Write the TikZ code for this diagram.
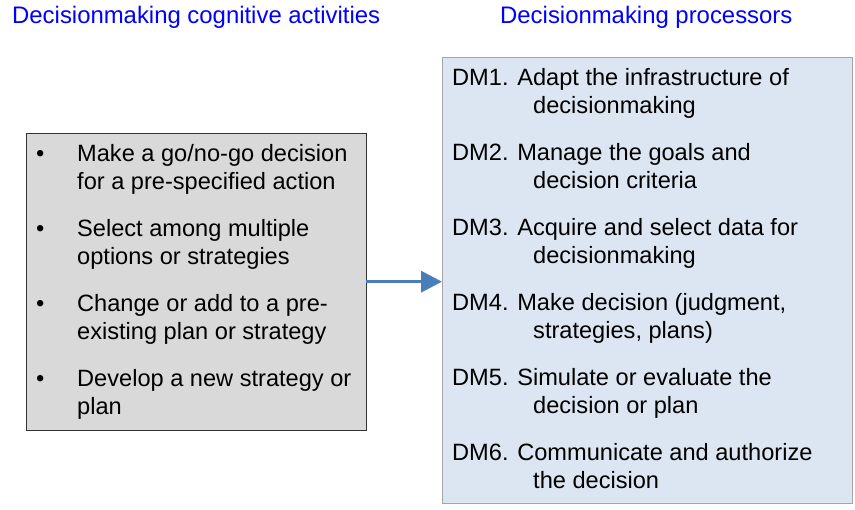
\documentclass[tikz,border=0pt]{standalone}
\usepackage{fontspec}
\setmainfont{Liberation Sans}
\usetikzlibrary{arrows.meta,positioning}
\definecolor{titleblue}{RGB}{0,0,255}
\definecolor{actgray}{RGB}{217,217,217}
\definecolor{procblue}{RGB}{220,230,242}
\definecolor{procedge}{RGB}{165,165,165}
\definecolor{arrowblue}{RGB}{74,126,187}

\begin{document}
\begin{tikzpicture}[x=1pt,y=-1pt,
    title/.style={anchor=base west,text=titleblue,inner sep=0pt,font=\fontsize{23.9}{28}\selectfont},
    item/.style={anchor=base west,inner sep=0pt,font=\fontsize{23.6}{28}\selectfont},
    panel/.style={anchor=north west,inner sep=0pt}]
    \useasboundingbox (0,0) rectangle (855,510);
    \node[title] (ttlact) at (12,24) {Decisionmaking cognitive activities};
    \node[title] (ttlproc) at (500,24) {Decisionmaking processors};
    \node[panel,draw=black!80,fill=actgray,minimum width=340pt,minimum height=297pt] (act) at (26,133) {};
    \node[panel,draw=procedge,fill=procblue,minimum width=410pt,minimum height=446pt] (proc) at (442,57) {};
    % activities, one bullet per two lines
    \foreach \a/\b [count=\k from 0] in {{Make a go/no-go decision}/{for a pre-specified action},
        {Select among multiple}/{options or strategies},
        {Change or add to a pre-}/{existing plan or strategy},
        {Develop a new strategy or}/{plan}} {
        \node[item] (dot\k) at (36,{162+74.7*\k}) {•};
        \node[item] (act\k) at (77,{162+74.7*\k}) {\a};
        \node[item] (actb\k) at (77,{190+74.7*\k}) {\b};
    }
    % processors DM1..DM6, second line indented
    \foreach \a/\b [count=\k from 0] in {{DM1. Adapt the infrastructure of}/{decisionmaking},
        {DM2. Manage the goals and}/{decision criteria},
        {DM3. Acquire and select data for}/{decisionmaking},
        {DM4. Make decision (judgment,}/{strategies, plans)},
        {DM5. Simulate or evaluate the}/{decision or plan},
        {DM6. Communicate and authorize}/{the decision}} {
        \node[item] (dm\k) at (452,{86+75*\k}) {\a};
        \node[item] (dmb\k) at (533,{114+75*\k}) {\b};
    }
    \draw[arrowblue,line width=3.5pt,-{Triangle[length=21pt,width=21pt]}] (act.east) -- (act.east -| proc.west);
\end{tikzpicture}
\end{document}
